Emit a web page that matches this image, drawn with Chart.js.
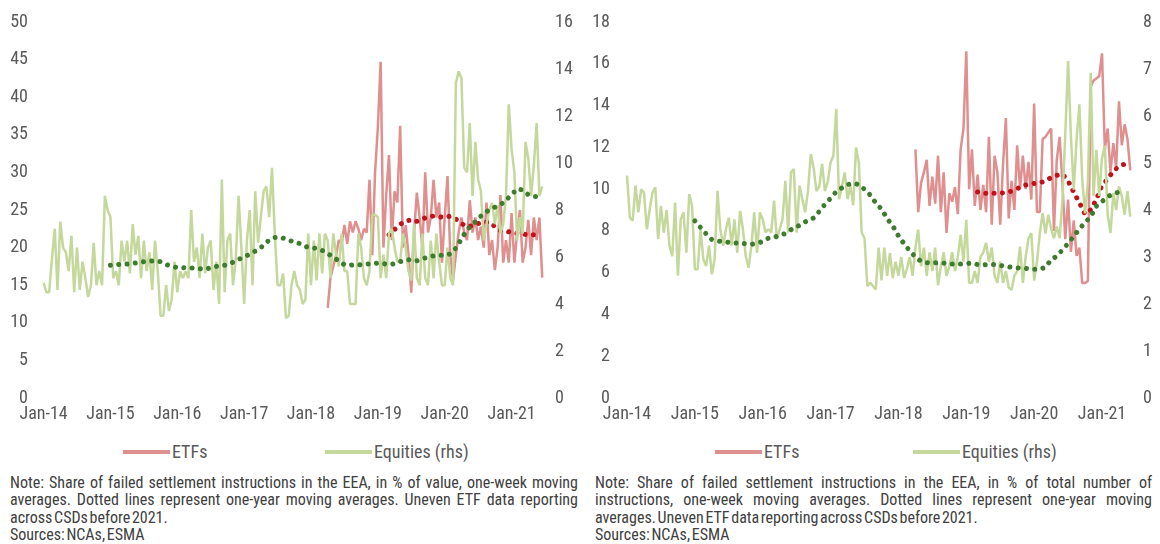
<!DOCTYPE html>
<html>
<head>
<meta charset="utf-8">
<script src="https://cdn.jsdelivr.net/npm/chart.js@4.4.1/dist/chart.umd.min.js"></script>
<style>
body { margin: 0; background: #fff; width: 1160px; height: 544px; position: relative; overflow: hidden;
  font-family: 'Roboto Condensed', sans-serif; }
.panel { position: absolute; top: 0; width: 580px; height: 544px; }
.panel canvas { position: absolute; left: 0; top: 0; }
.leg { position: absolute; top: 441px; height: 22px; font-size: 18px; line-height: 22px; color: #595959; white-space: nowrap; }
.leg i { display: inline-block; width: 47px; height: 4px; vertical-align: middle; margin-right: 2px; position: relative; top: -1px; }
.note { position: absolute; top: 474px; color: #404040; font-size: 16px; line-height: 17.3px; }
.note div { white-space: nowrap; }
.note .j { text-align: justify; text-align-last: justify; }
.note .t { word-spacing: -2px; }
</style>
</head>
<body>
<div class="panel" id="p1" style="left:0">
  <canvas id="c1" width="580" height="433"></canvas>
  <div class="note" style="left:10px;width:568px">
    <div class="j">Note: Share of failed settlement instructions in the EEA, in % of value, one-week moving</div>
    <div class="j">averages. Dotted lines represent one-year moving averages. Uneven ETF data reporting</div>
    <div class="t">across CSDs before 2021.</div>
    <div class="t">Sources: NCAs, ESMA</div>
  </div>
</div>
<div class="panel" id="p2" style="left:580px">
  <canvas id="c2" width="580" height="433"></canvas>
  <div class="note" style="left:15px;width:557px">
    <div class="j">Note: Share of failed settlement instructions in the EEA, in % of total number of</div>
    <div class="j">instructions, one-week moving averages. Dotted lines represent one-year moving</div>
    <div class="t">averages. Uneven ETF data reporting across CSDs before 2021.</div>
    <div class="t">Sources: NCAs, ESMA</div>
  </div>
</div>
<script>
// x values are months since Jan-14; weekly series are sampled every half month
const yearTicks = [0, 12, 24, 36, 48, 60, 72, 84]
const yearLabels = ["Jan-14", "Jan-15", "Jan-16", "Jan-17", "Jan-18", "Jan-19", "Jan-20", "Jan-21"]

// left chart: % of value
const valueEquities = [
  4.9, 4.5, 4.5, 5.9, 7.2, 4.6, 7.5, 6.4, 6.2, 5.4, 6.9, 4.5,
  6.4, 4.6, 5.8, 5.1, 4.3, 4.8, 6.6, 4.8, 5.4, 4.8, 8.6, 8.0,
  7.7, 5.1, 5.4, 4.8, 6.7, 5.8, 6.7, 5.3, 7.4, 6.1, 6.9, 5.1,
  6.7, 5.4, 6.2, 4.6, 6.7, 5.4, 3.5, 3.5, 4.8, 3.7, 4.2, 5.8,
  4.5, 5.4, 5.1, 5.4, 5.1, 8.0, 5.8, 6.4, 5.1, 7.0, 5.3, 6.4,
  6.7, 4.6, 5.8, 4.0, 9.3, 4.5, 6.7, 7.0, 4.8, 5.9, 8.6, 6.4,
  4.0, 6.7, 8.0, 4.8, 8.8, 6.6, 7.7, 8.8, 9.0, 7.7, 9.8, 7.0,
  4.8, 4.8, 5.3, 3.4, 3.5, 4.8, 5.4, 4.8, 4.6, 4.0, 4.2, 7.0,
  4.8, 6.7, 5.0, 7.0, 5.3, 7.0, 6.7, 5.1, 7.0, 6.1, 5.6, 7.0,
  5.4, 5.4, 4.0, 4.0, 4.0, 7.0, 6.4, 5.1, 4.8, 5.4, 7.8, 7.8,
  7.7, 5.1, 6.1, 5.1, 7.0, 7.2, 6.4, 5.8, 5.8, 7.0, 6.4, 5.4,
  5.0, 7.4, 5.1, 4.8, 7.0, 5.1, 4.8, 6.7, 5.1, 7.0, 5.8, 4.8,
  4.8, 6.4, 5.1, 4.8, 13.4, 13.9, 13.6, 9.8, 9.6, 11.7, 8.6, 10.9,
  9.3, 8.8, 6.7, 7.4, 8.0, 8.3, 7.4, 8.2, 7.0, 7.4, 8.6, 12.5,
  10.6, 9.6, 6.7, 7.7, 7.0, 10.9, 10.2, 8.6, 9.9, 11.7, 8.6, 9.0
]
const valueEtfs = [
  12, 16, 17.5, 19, 21, 20.5, 23, 20.5, 23.5, 22, 23.5, 22.5, 21, 22.5,
  22, 29, 19, 30, 36, 44.7, 20, 27, 32.3, 21, 27.5, 26, 36.2, 20, 23, 19,
  14, 22, 27.3, 24, 20, 30, 22, 24, 29, 24, 26, 18, 24, 29.5, 19, 15.7,
  19, 22, 24, 22, 21, 26.3, 22, 24, 21, 22.8, 20, 26, 19, 21, 17, 20,
  27, 18, 21, 18, 24.6, 18, 22, 25, 18, 20, 23.7, 19, 24, 21, 24, 16
]
const valueEquitiesYear = [
  5.65, 5.67, 5.69, 5.7, 5.73, 5.76, 5.8, 5.82, 5.84, 5.8, 5.68, 5.6,
  5.55, 5.55, 5.53, 5.53, 5.5, 5.47, 5.55, 5.6, 5.63, 5.67, 5.78, 5.9,
  6.0, 6.12, 6.25, 6.4, 6.62, 6.8, 6.85, 6.8, 6.72, 6.63, 6.57, 6.45,
  6.38, 6.37, 6.28, 6.15, 6.0, 5.83, 5.67, 5.65, 5.67, 5.67, 5.7, 5.72,
  5.74, 5.72, 5.67, 5.72, 5.8, 5.88, 5.88, 5.84, 5.92, 6.0, 6.05, 6.07,
  6.07, 6.13, 6.38, 6.77, 7.16, 7.38, 7.63, 7.85, 8.0, 8.12, 8.22, 8.42,
  8.65, 8.9, 8.85, 8.65, 8.57, 8.57
]
const valueEtfsYear = [
  21.7, 22.4, 23.1, 23.5, 23.7, 23.5, 23.8, 24.1, 24.2, 24.1, 24.0, 24.2,
  23.8, 23.2, 22.8, 22.9, 23.2, 23.4, 23.4, 22.8, 22.3, 22.2, 22.0, 21.9,
  21.8, 21.7, 21.7, 21.7
]

// right chart: % of number of instructions
const countEquities = [
  4.73, 3.84, 3.77, 4.52, 3.95, 4.44, 4.37, 3.59, 4.0, 4.37, 4.48, 3.38,
  4.09, 3.52, 4.0, 3.24, 3.02, 4.16, 2.6, 3.8, 3.95, 3.09, 4.34, 4.09,
  2.74, 2.74, 3.59, 2.95, 2.81, 3.24, 2.63, 2.95, 4.41, 3.59, 3.24, 3.6,
  3.84, 3.24, 3.8, 3.09, 3.98, 3.59, 3.02, 2.77, 3.24, 3.95, 3.09, 3.95,
  3.8, 3.52, 3.59, 3.52, 4.2, 3.38, 3.59, 3.8, 4.62, 3.52, 4.8, 4.87,
  3.52, 4.52, 4.23, 3.95, 4.4, 5.19, 4.9, 4.4, 4.5, 4.98, 4.4, 4.6,
  5.01, 5.16, 6.15, 4.23, 4.5, 4.8, 4.23, 4.52, 4.1, 5.33, 5.0, 3.52,
  3.4, 2.38, 2.45, 2.38, 2.31, 3.2, 2.5, 3.2, 2.6, 3.08, 2.55, 2.9,
  2.6, 3.0, 2.55, 2.75, 3.0, 2.6, 3.2, 3.58, 2.8, 3.2, 2.6, 3.1,
  2.7, 3.2, 2.4, 2.8, 3.1, 2.6, 2.8, 3.1, 2.7, 3.0, 3.47, 2.9,
  3.79, 2.45, 2.45, 2.7, 2.45, 3.0, 3.1, 3.3, 2.9, 3.2, 2.6, 2.45,
  2.9, 2.45, 2.7, 2.35, 2.3, 2.6, 2.7, 3.22, 2.45, 3.0, 3.4, 3.51,
  2.5, 2.9, 3.5, 3.93, 3.5, 3.9, 3.6, 3.4, 3.65, 3.4, 4.2, 5.6,
  7.17, 5.57, 4.43, 5.5, 6.25, 4.65, 3.93, 4.6, 6.92, 4.3, 5.28, 4.3,
  5.1, 5.37, 3.9, 3.51, 4.36, 4.0, 4.5, 4.29, 3.9, 4.4, 3.86
]
const countEtfs = [
  11.9, 8.9, 10.3, 10.8, 11.4, 9.2, 10.6, 9.3, 11.6, 8.9, 10.8, 7.9, 9.8, 9.4,
  10.1, 8.8, 11.9, 12.9, 16.6, 10.0, 11.9, 9.2, 10.7, 9.0, 10.2, 8.9, 12.5, 8.3,
  11.6, 10.8, 8.3, 11.2, 13.4, 8.6, 10.4, 9.0, 12.1, 10.0, 11.6, 10.0, 11.3, 9.5,
  14.1, 8.9, 8.9, 12.4, 12.5, 12.7, 12.9, 8.0, 11.4, 12.5, 10.3, 7.6, 9.5, 7.0,
  8.5, 6.8, 7.2, 5.5, 5.5, 5.6, 14.9, 15.2, 15.3, 15.4, 16.5, 11.9, 12.9, 10.8,
  12.2, 11.0, 14.2, 12.1, 13.1, 12.4, 10.9
]
const countEquitiesYear = [
  3.77, 3.63, 3.49, 3.37, 3.34, 3.33, 3.31, 3.30, 3.30, 3.28, 3.27, 3.29,
  3.33, 3.40, 3.42, 3.46, 3.5, 3.58, 3.64, 3.71, 3.78, 3.83, 3.97, 4.12,
  4.25, 4.39, 4.47, 4.54, 4.57, 4.54, 4.44, 4.32, 4.15, 4.02, 3.82, 3.66,
  3.45, 3.28, 3.13, 3.0, 2.91, 2.88, 2.87, 2.88, 2.87, 2.85, 2.85, 2.85,
  2.86, 2.87, 2.84, 2.83, 2.84, 2.84, 2.82, 2.8, 2.78, 2.77, 2.76, 2.75,
  2.74, 2.74, 2.78, 2.94, 3.02, 3.15, 3.29, 3.44, 3.6, 3.73, 3.86, 4.08,
  4.18, 4.28, 4.35, 4.38, 4.4
]
const countEtfsYear = [
  9.86, 9.8, 9.8, 9.8, 9.8, 9.84, 9.9, 10.02, 10.16, 10.23, 10.27, 10.3,
  10.4, 10.55, 10.66, 10.72, 10.4, 9.85, 9.35, 8.8, 9.0, 9.5, 10.2, 10.47,
  10.87, 11.08, 11.2, 11.3
]

const etfColor = "#df8f8e"
const eqColor = "#c4d89c"
const etfYearColor = "#c0121b"
const eqYearColor = "#3e7b2e"
const tickColor = "#595959"
const font = { family: "'Roboto Condensed', sans-serif", size: 18 }

function points(start, step, values){
    return values.map((v, i) => ({ x: start + i * step, y: v }))
}

function weekly(label, data, axis, color, order){
    return { label, data, yAxisID: axis, borderColor: color, backgroundColor: color,
        borderWidth: 2.5, borderJoinStyle: "bevel", pointRadius: 0, order }
}
function yearly(label, data, axis, color, order){
    return { label, data, yAxisID: axis, borderColor: color, borderWidth: 5,
        borderDash: [0.01, 8.3], borderCapStyle: "round", pointRadius: 0, order }
}

function make_chart(id, p){
    const datasets = [
        weekly("ETFs", points(51, 0.5, p.etf), "y", etfColor, 4),
        yearly("ETFs 1y", points(62, 1, p.etfYear), "y", etfYearColor, 3),
        weekly("Equities (rhs)", points(0, 0.5, p.eq), "y1", eqColor, 2),
        yearly("Equities 1y", points(12, 1, p.eqYear), "y1", eqYearColor, 1)
    ]
    const noGrid = { display: false, drawTicks: false }
    const chart = new Chart(document.getElementById(id), {
        type: "line",
        data: { datasets },
        options: {
            responsive: false,
            animation: false,
            layout: { padding: { top: 22, left: 0, right: 0, bottom: 0 } },
            plugins: { legend: { display: false }, tooltip: { enabled: false } },
            scales: {
                x: {
                    type: "linear", min: p.xMin, max: p.xMax,
                    grid: noGrid, border: { display: false },
                    afterBuildTicks: s => { s.ticks = yearTicks.map(v => ({ value: v })) },
                    afterFit: s => { s.height = 35 },
                    ticks: { callback: (v, i) => yearLabels[i], color: tickColor, font,
                        padding: 6, maxRotation: 0, autoSkip: false }
                },
                y: {
                    position: "left", min: 0, max: p.yMax,
                    grid: noGrid, border: { display: false },
                    afterFit: s => { s.width = p.leftW },
                    ticks: { stepSize: p.yStep, color: tickColor, font, padding: 10 }
                },
                y1: {
                    position: "right", min: 0, max: p.y1Max,
                    grid: noGrid, border: { display: false },
                    afterFit: s => { s.width = p.rightW },
                    ticks: { stepSize: p.y1Step, color: tickColor, font, padding: 10 }
                }
            }
        }
    })
    // html legend for the two weekly series
    const panel = document.getElementById(p.panel)
    ;[0, 2].forEach((di, k) => {
        const ds = chart.data.datasets[di]
        const item = document.createElement("div")
        item.className = "leg"
        item.style.left = p.legendX[k] + "px"
        item.innerHTML = '<i style="background:' + ds.borderColor + '"></i>' + ds.label
        panel.appendChild(item)
    })
    return chart
}

make_chart("c1", {
    panel: "p1", etf: valueEtfs, etfYear: valueEtfsYear, eq: valueEquities, eqYear: valueEquitiesYear,
    yMax: 50, yStep: 5, y1Max: 16, y1Step: 2, xMin: -1, xMax: 90, leftW: 38, rightW: 35,
    legendX: [123, 325]
})
make_chart("c2", {
    panel: "p2", etf: countEtfs, etfYear: countEtfsYear, eq: countEquities, eqYear: countEquitiesYear,
    yMax: 18, yStep: 2, y1Max: 8, y1Step: 1, xMin: -1.24, xMax: 89.48, leftW: 40, rightW: 27,
    legendX: [135, 333]
})
</script>
</body>
</html>
